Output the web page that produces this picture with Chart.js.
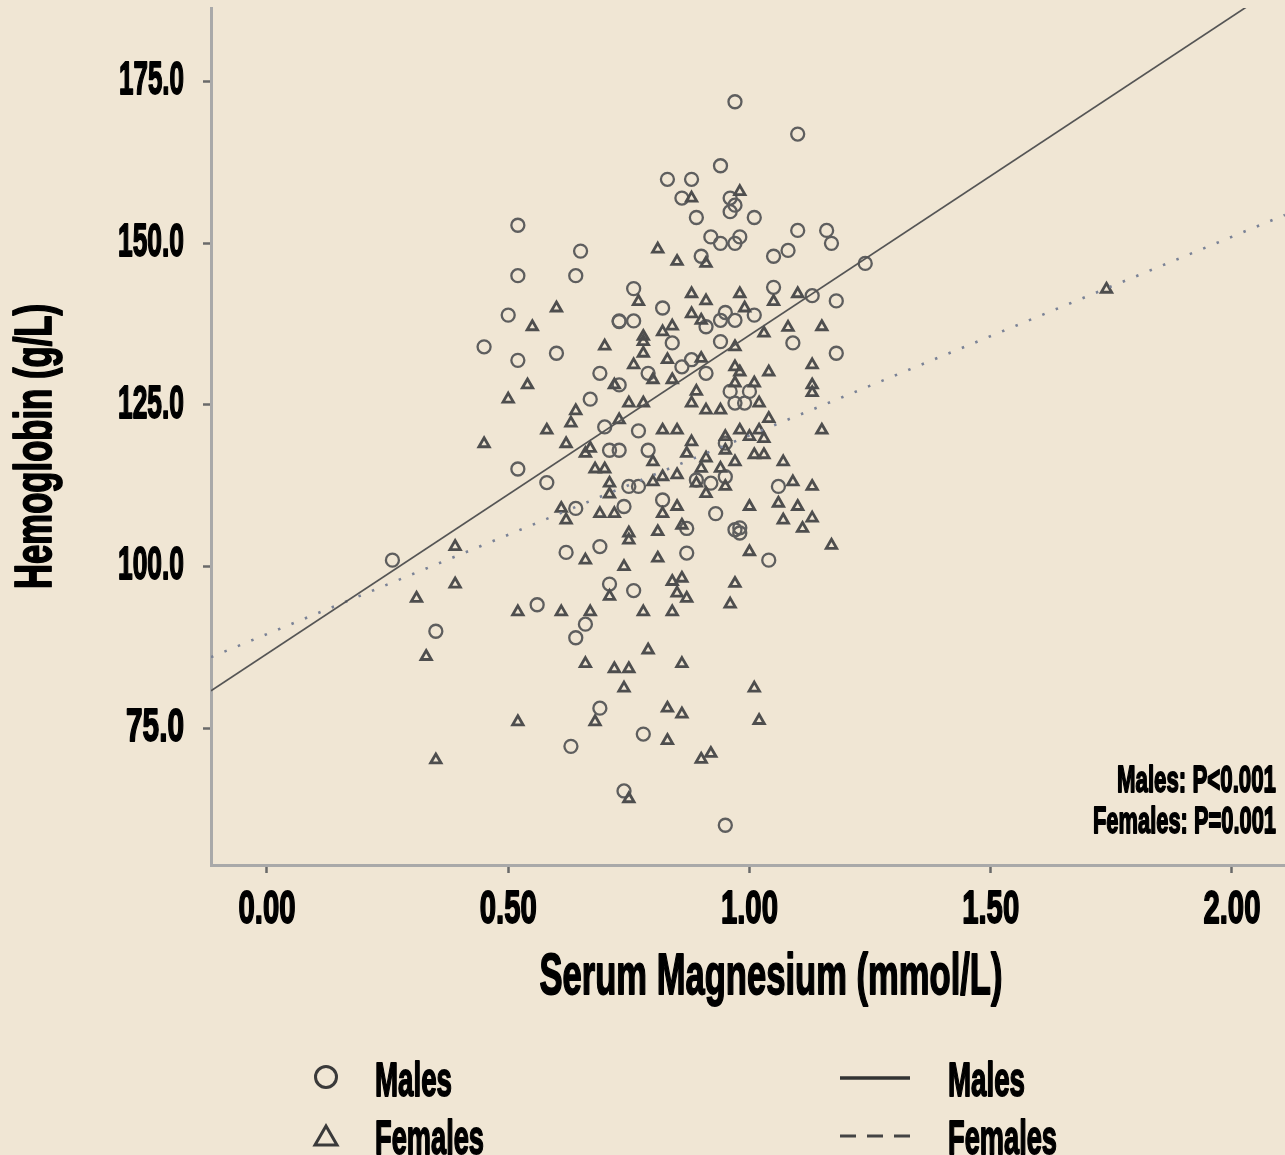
<!DOCTYPE html>
<html>
<head>
<meta charset="utf-8">
<script src="https://cdn.jsdelivr.net/npm/chart.js@4.4.0/dist/chart.umd.min.js"></script>
<style>
  html, body { margin: 0; padding: 0; background: #f0e6d4; }
  #wrap { width: 1285px; height: 1155px; }
</style>
</head>
<body>
<div id="wrap"><canvas id="c" width="1285" height="1155"></canvas></div>
<script>
// ---------------- DATA ----------------
const MALES_MG = [0.52,0.65,0.52,0.64,0.50,0.73,0.97,1.10,0.94,0.83,0.88,0.86,0.96,0.97,0.96,0.89,1.01,0.92,0.94,0.97,0.98,1.10,1.16,1.17,1.08,1.05,0.90,1.24,0.76,1.05,1.13,1.18,0.82,0.76,0.73,0.95,1.01,0.94,0.97,0.91,0.45,0.52,0.60,0.69,0.67,0.71,0.70,0.52,0.58,0.64,0.26,0.62,0.69,0.71,0.56,0.66,0.64,0.35,0.69,0.63,0.74,0.76,0.78,0.95,0.84,0.94,1.09,1.18,0.79,0.86,0.88,0.91,0.73,0.96,1.00,0.97,0.99,0.77,0.95,0.79,0.73,0.89,0.75,0.77,1.06,0.95,0.92,0.82,0.74,0.93,0.97,0.98,0.98,0.87,0.87,1.04];
const MALES_HB = [152.8,148.8,145.0,145.0,138.9,137.9,171.9,166.9,162.0,159.9,159.9,157.0,157.0,155.9,154.9,154.0,154.0,151.0,150.0,150.0,151.0,152.0,152.0,150.0,148.9,148.0,148.0,146.9,143.0,143.2,141.9,141.1,140.0,138.0,138.0,139.3,138.9,138.1,138.1,137.1,134.0,131.9,133.0,129.9,125.9,118.0,121.6,115.1,113.0,109.0,101.0,102.2,103.1,97.3,94.1,91.1,89.0,90.0,78.1,72.2,65.3,96.3,74.1,60.0,134.6,134.8,134.6,133.0,129.9,130.9,132.0,129.9,128.1,127.1,127.1,125.3,125.3,121.0,119.1,118.0,118.0,113.4,112.4,112.4,112.4,113.9,112.9,110.3,109.3,108.2,105.7,106.0,105.2,105.9,102.1,101.0];

const FEMALES_MG = [0.60,0.55,0.88,0.98,0.91,0.81,0.85,0.77,0.88,0.91,0.98,1.05,1.10,0.88,0.90,0.99,0.84,1.15,1.08,0.82,1.03,0.78,0.70,0.72,0.54,0.50,0.64,0.63,0.58,0.62,0.45,0.66,0.67,0.68,0.70,0.71,0.71,0.61,0.62,0.69,0.72,0.39,0.66,0.39,0.31,0.52,0.61,0.67,0.71,0.33,0.66,0.72,0.68,0.52,0.35,0.85,0.87,0.96,0.78,0.84,0.79,0.86,0.75,0.74,1.01,0.83,0.86,1.02,0.83,0.90,0.92,0.75,1.74,0.78,0.78,0.97,1.13,1.13,1.13,1.04,0.76,0.83,0.90,0.97,0.98,0.80,0.84,0.89,1.01,0.97,0.88,0.91,0.94,1.02,0.75,0.78,1.04,0.73,0.82,0.85,0.98,1.02,1.00,1.03,1.15,0.95,0.88,0.87,0.95,1.01,1.03,1.07,0.80,0.97,0.91,0.90,0.94,0.85,0.82,0.80,1.09,1.13,1.06,0.89,0.91,0.95,0.85,1.00,1.10,1.07,1.13,1.11,0.82,0.81,0.86,0.75,0.75,1.17,1.00,0.81,0.74,0.86,0.84,0.97];
const FEMALES_HB = [140.0,137.1,157.0,158.0,146.9,149.1,147.2,141.0,142.2,141.1,142.2,141.0,142.2,139.1,138.1,140.0,137.2,137.1,137.0,136.3,136.1,135.6,134.1,128.1,128.1,125.9,124.1,122.2,121.1,119.0,119.0,117.5,118.3,115.1,115.1,112.9,111.2,109.0,107.2,108.2,108.2,103.1,101.0,97.3,95.1,93.0,93.0,93.0,95.4,86.1,85.0,84.2,76.0,76.0,70.1,95.9,95.1,94.2,93.0,93.0,87.1,85.0,84.2,81.2,81.2,78.1,77.2,76.2,73.1,70.2,71.1,64.1,142.9,134.8,133.0,134.0,131.2,128.1,126.9,130.1,131.2,132.0,132.2,130.9,130.1,128.9,128.9,127.1,128.4,128.4,125.3,124.2,124.2,125.3,125.3,125.3,122.9,122.7,121.1,121.1,121.1,121.1,120.1,119.8,121.1,120.1,119.3,117.5,118.0,117.3,117.3,116.2,116.2,116.2,116.8,115.2,115.2,114.2,113.9,113.1,113.1,112.4,109.8,112.9,111.3,112.4,109.3,109.3,109.3,107.2,107.5,105.9,108.2,105.4,106.4,105.2,104.1,103.3,102.3,101.3,100.0,98.2,97.7,97.4];

// Fit lines (end points)
const MALES_FIT_MG = [-0.116, 2.031];
const MALES_FIT_HB = [80.8, 186.6];
const FEMALES_FIT_MG = [-0.116, 2.110];
const FEMALES_FIT_HB = [86.0, 154.4];

const X_TICKS = [0, 0.5, 1.0, 1.5, 2.0];
const X_TICK_LABELS = ['0.00', '0.50', '1.00', '1.50', '2.00'];
const Y_TICKS = [75, 100, 125, 150, 175];
const Y_TICK_LABELS = ['75.0', '100.0', '125.0', '150.0', '175.0'];

const X_TITLE = 'Serum Magnesium (mmol/L)';
const Y_TITLE = 'Hemoglobin (g/L)';
const ANNOTATIONS = ['Males: P<0.001', 'Females: P=0.001'];
const LEGEND_POINTS = ['Males', 'Females'];
const LEGEND_LINES = ['Males', 'Females'];

// ---------------- STYLE ----------------
const BG = '#f0e6d4';
const FONT = '"Liberation Sans", Arial, sans-serif';
const DEFAULT_SX = 0.6;
const STROKE_W = 1.8;
// target rendered widths (condensed display face emulation)
const TEXT_FIT = {
  'Serum Magnesium (mmol/L)': { w: 463, dx: 23 },
  'Hemoglobin (g/L)': { w: 285, dx: -10 },
  'Males: P<0.001': { w: 159 },
  'Females: P=0.001': { w: 183 },
  'Males': { w: 77 },
  'Females': { w: 109 },
  '175.0': { w: 65 }, '150.0': { w: 66 }, '125.0': { w: 66 }, '100.0': { w: 66 }, '75.0': { w: 58 },
  '0.00': { w: 57 }, '0.50': { w: 57 }, '1.00': { w: 57 }, '1.50': { w: 57 }, '2.00': { w: 57 }
};

function patchCtx(ctx) {
  if (ctx.__condensed) return;
  ctx.__condensed = true;
  const origFill = ctx.fillText.bind(ctx);
  ctx.fillText = function (text, x, y) {
    const s = String(text);
    const fit = TEXT_FIT[s];
    const w = ctx.measureText(s).width || 1;
    const sx = fit ? fit.w / w : DEFAULT_SX;
    ctx.save();
    ctx.translate(x + (fit && fit.dx ? fit.dx : 0), y);
    ctx.scale(sx, 1);
    ctx.lineWidth = STROKE_W;
    ctx.lineJoin = 'round';
    ctx.strokeStyle = ctx.fillStyle;
    ctx.setLineDash([]);
    ctx.strokeText(s, 0, 0);
    origFill(s, 0, 0);
    ctx.restore();
  };
}

const condensedText = {
  id: 'condensedText',
  beforeInit(chart) { patchCtx(chart.ctx); }
};

const background = {
  id: 'background',
  beforeDraw(chart) {
    const ctx = chart.ctx;
    ctx.save();
    ctx.fillStyle = BG;
    ctx.fillRect(0, 0, chart.width, chart.height);
    ctx.restore();
  }
};

const extras = {
  id: 'extras',
  afterDraw(chart) {
    const ctx = chart.ctx;
    ctx.save();
    ctx.fillStyle = '#000';
    ctx.textBaseline = 'alphabetic';
    // annotation
    ctx.font = 'bold 37px ' + FONT;
    ctx.textAlign = 'right';
    ctx.fillText(ANNOTATIONS[0], 1276, 792);
    ctx.fillText(ANNOTATIONS[1], 1276, 833);
    // legend texts
    ctx.font = 'bold 49px ' + FONT;
    ctx.textAlign = 'left';
    ctx.fillText(LEGEND_POINTS[0], 375, 1096);
    ctx.fillText(LEGEND_POINTS[1], 375, 1154);
    ctx.fillText(LEGEND_LINES[0], 948, 1096);
    ctx.fillText(LEGEND_LINES[1], 948, 1154);
    // legend symbols
    ctx.strokeStyle = '#3a3a3a';
    ctx.lineWidth = 3;
    ctx.beginPath();
    ctx.arc(326, 1077, 10.5, 0, Math.PI * 2);
    ctx.stroke();
    ctx.beginPath();
    ctx.moveTo(326, 1126);
    ctx.lineTo(337, 1145);
    ctx.lineTo(315, 1145);
    ctx.closePath();
    ctx.stroke();
    ctx.lineWidth = 3.5;
    ctx.strokeStyle = '#333';
    ctx.beginPath();
    ctx.moveTo(840, 1078);
    ctx.lineTo(910, 1078);
    ctx.stroke();
    ctx.setLineDash([16, 11]);
    ctx.lineWidth = 3;
    ctx.strokeStyle = '#444';
    ctx.beginPath();
    ctx.moveTo(840, 1136);
    ctx.lineTo(910, 1136);
    ctx.stroke();
    ctx.restore();
  }
};

const toPts = (xs, ys) => xs.map((x, i) => ({ x: x, y: ys[i] }));

new Chart(document.getElementById('c'), {
  type: 'scatter',
  data: {
    datasets: [
      {
        label: 'Males',
        data: toPts(MALES_MG, MALES_HB),
        pointStyle: 'circle',
        pointRadius: 6.5,
        pointBorderWidth: 2.3,
        borderColor: '#5e5e5e',
        backgroundColor: 'rgba(0,0,0,0)',
        order: 3
      },
      {
        label: 'Females',
        data: toPts(FEMALES_MG, FEMALES_HB),
        pointStyle: 'triangle',
        pointRadius: 6,
        pointBorderWidth: 2.8,
        borderColor: '#4e4e4e',
        backgroundColor: 'rgba(0,0,0,0)',
        order: 2
      },
      {
        type: 'line',
        label: 'Males fit',
        data: toPts(MALES_FIT_MG, MALES_FIT_HB),
        borderColor: '#555',
        borderWidth: 1.7,
        pointRadius: 0,
        fill: false,
        order: 1
      },
      {
        type: 'line',
        label: 'Females fit',
        data: toPts(FEMALES_FIT_MG, FEMALES_FIT_HB),
        borderColor: '#7a8296',
        borderWidth: 2.6,
        borderDash: [2.5, 12],
        pointRadius: 0,
        fill: false,
        order: 1
      }
    ]
  },
  options: {
    responsive: false,
    animation: false,
    layout: { autoPadding: false, padding: { top: 8, left: 0, right: 0, bottom: 0 } },
    plugins: { legend: { display: false }, tooltip: { enabled: false } },
    scales: {
      x: {
        type: 'linear',
        min: -0.116,
        max: 2.110,
        afterBuildTicks: s => { s.ticks = X_TICKS.map(v => ({ value: v })); },
        afterFit: s => { s.height = 290; s.paddingLeft = 0; s.paddingRight = 0; },
        ticks: {
          autoSkip: false,
          maxRotation: 0,
          padding: 10,
          color: '#000',
          font: { family: FONT, size: 46, weight: 'bold' },
          callback: v => X_TICK_LABELS[X_TICKS.indexOf(v)]
        },
        grid: { drawOnChartArea: false, drawTicks: true, tickLength: 8, tickColor: '#6a6a6a', tickWidth: 2.5 },
        border: { display: true, color: '#a9a9a9', width: 3 },
        title: {
          display: true,
          text: X_TITLE,
          color: '#000',
          font: { family: FONT, size: 58, weight: 'bold', lineHeight: 1 },
          padding: { top: 0, bottom: 148 }
        }
      },
      y: {
        type: 'linear',
        min: 53.85,
        max: 186.4,
        afterBuildTicks: s => { s.ticks = Y_TICKS.map(v => ({ value: v })); },
        afterFit: s => { s.width = 211; s.paddingTop = 0; s.paddingBottom = 0; },
        ticks: {
          padding: 19,
          color: '#000',
          font: { family: FONT, size: 46, weight: 'bold' },
          callback: v => Y_TICK_LABELS[Y_TICKS.indexOf(v)]
        },
        grid: { drawOnChartArea: false, drawTicks: true, tickLength: 8, tickColor: '#6a6a6a', tickWidth: 2.5 },
        border: { display: true, color: '#a9a9a9', width: 3 },
        title: {
          display: true,
          text: Y_TITLE,
          color: '#000',
          font: { family: FONT, size: 52, weight: 'bold', lineHeight: 1 },
          padding: { top: 11, bottom: 0 }
        }
      }
    }
  },
  plugins: [condensedText, background, extras]
});
</script>
</body>
</html>
